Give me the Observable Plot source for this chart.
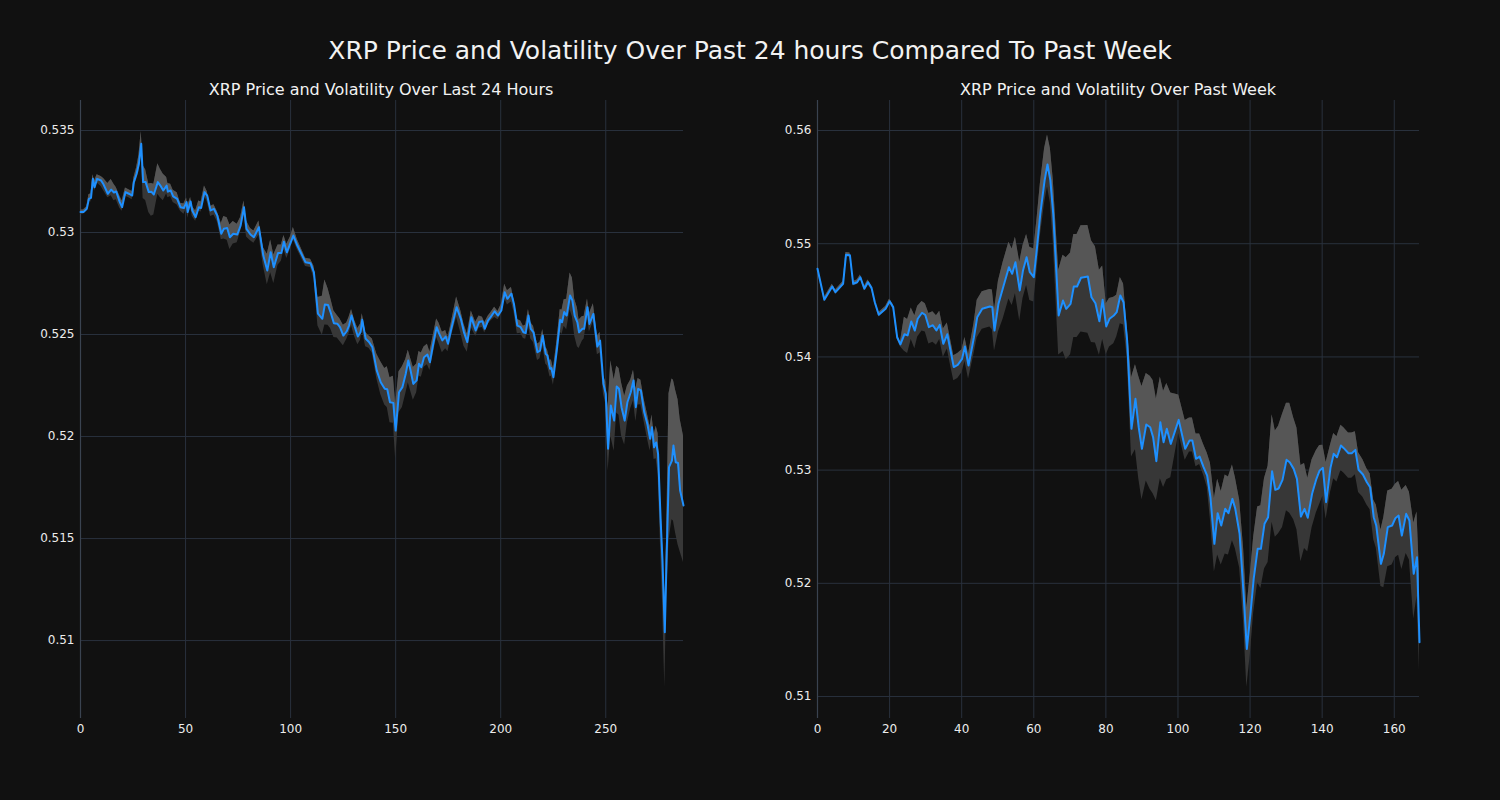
<!DOCTYPE html>
<html>
<head>
<meta charset="utf-8">
<script src="https://cdn.jsdelivr.net/npm/d3@7"></script>
<script src="https://cdn.jsdelivr.net/npm/@observablehq/plot@0.6"></script>
<style>
  html, body { margin: 0; padding: 0; background: #111111; }
  #root { position: relative; width: 1500px; height: 800px; background: #111111; font-family: "DejaVu Sans", sans-serif; overflow: hidden; }
  .title { position: absolute; color: #f2f2f2; white-space: nowrap; transform: translate(-50%, -50%); }
  .panel { position: absolute; top: 0; }
</style>
</head>
<body>
<div id="root">
  <div class="title" style="left:750px; top:50px; font-size:25px;">XRP Price and Volatility Over Past 24 hours Compared To Past Week</div>
  <div class="title" style="left:381px; top:89px; font-size:16px;">XRP Price and Volatility Over Last 24 Hours</div>
  <div class="title" style="left:1118px; top:89px; font-size:16px;">XRP Price and Volatility Over Past Week</div>
  <div id="left" class="panel" style="left:0px;"></div>
  <div id="right" class="panel" style="left:750px;"></div>
</div>
<script>
// ---------- Last 24 hours (5-minute steps) ----------
const dayX = [
  0, 1.4, 3, 4, 5, 5.9, 6.7, 7.9, 9.8, 11,
  13, 14.6, 15.9, 17, 18.7, 19.8, 21.4, 23, 24.6, 25.4,
  26.7, 27.8, 28.9, 29.8, 31, 32.5, 33.7, 34.9, 36.8, 38,
  39.4, 41, 41.6, 42.9, 44.1, 46, 47.6, 49.2, 50.5, 51,
  52.4, 53.2, 54.8, 56.3, 57.4, 59, 60.3, 61.9, 63.5, 65.1,
  67, 68.2, 69.8, 71.1, 72.7, 74.6, 76.2, 77.8, 79, 80.9,
  82.5, 84.9, 87, 88.9, 90.5, 92, 94, 95.6, 96.8, 98.2,
  100, 101.3, 103.2, 107.1, 109.5, 111.1, 113, 115.1, 116.3, 117.8,
  119, 120.6, 122.2, 123.5, 125.1, 126.7, 127.8, 129, 130.5, 132,
  133.3, 134.1, 135.7, 137.3, 138.9, 141, 142.9, 144.8, 146, 147.3,
  148.9, 150, 151.6, 153.2, 154.8, 156, 157.1, 158.4, 160, 161.1,
  162.2, 163.5, 165.1, 166.3, 167.9, 169.5, 170.6, 172.2, 173.8, 174.9,
  176.5, 179, 181, 182.5, 184.1, 186, 188.1, 189.7, 191.3, 192.4,
  194, 195.2, 197.1, 198.7, 200.3, 201.9, 203.2, 205.1, 206.3, 207.9,
  209.5, 210.8, 211.9, 213.2, 214.3, 215.6, 217.5, 218.7, 220, 221.4,
  222.2, 223.5, 224.1, 225.1, 226.7, 228.3, 229.2, 230.2, 231.4, 233,
  234.1, 235.2, 236.5, 237.3, 238.9, 239.7, 241.3, 242.2, 244.1, 246,
  247.3, 248.9, 250, 251.1, 252.4, 254, 255.2, 256.3, 257.5, 259,
  260.3, 261.9, 263.2, 264.3, 265.4, 266.7, 268.3, 269.8, 271.1, 272,
  273, 274, 274.9, 276.2, 277, 278.1, 279, 280.1, 281.5, 282.2,
  283.3, 284.4, 285.4, 287
];
const dayPrice = [
  0.5310, 0.5310, 0.53116, 0.53165, 0.5317, 0.53263, 0.53222, 0.53263, 0.53255, 0.53235,
  0.5319, 0.5321, 0.53196, 0.53201, 0.53149, 0.53124, 0.53198, 0.5319, 0.53181, 0.53247,
  0.53288, 0.53337, 0.53435, 0.53247, 0.53247, 0.53198, 0.532, 0.53186, 0.53247, 0.5323,
  0.53206, 0.5323, 0.5320, 0.53206, 0.53177, 0.53165, 0.53124, 0.5312, 0.53149, 0.531,
  0.53152, 0.53108, 0.53075, 0.53124, 0.5312, 0.53198, 0.53181, 0.53108, 0.53116, 0.53083,
  0.52994, 0.53018, 0.53022, 0.52977, 0.52994, 0.5299, 0.53034, 0.53124, 0.53018, 0.5299,
  0.52977, 0.53026, 0.52887, 0.52814, 0.52903, 0.5283, 0.52899, 0.52899, 0.52955, 0.52903,
  0.5295, 0.52985, 0.52936, 0.52854, 0.52849, 0.52805, 0.52602, 0.52577, 0.52647, 0.52645,
  0.5261, 0.52555, 0.52553, 0.52536, 0.52495, 0.52516, 0.52544, 0.52593, 0.52539, 0.5249,
  0.52512, 0.52572, 0.5248, 0.52463, 0.52438, 0.52324, 0.52266, 0.52234, 0.52232, 0.52168,
  0.52165, 0.52029, 0.52217, 0.52242, 0.52308, 0.52373, 0.52324, 0.52258, 0.52275, 0.52357,
  0.5234, 0.52389, 0.52402, 0.52364, 0.52455, 0.52536, 0.52507, 0.52471, 0.5249, 0.52455,
  0.52528, 0.52634, 0.52577, 0.52512, 0.52463, 0.52585, 0.5252, 0.52561, 0.52565, 0.52528,
  0.52569, 0.52585, 0.52614, 0.52593, 0.52618, 0.52707, 0.52675, 0.527, 0.5265, 0.52544,
  0.52536, 0.52511, 0.52507, 0.52593, 0.52528, 0.52511, 0.52413, 0.52421, 0.52495, 0.52405,
  0.52397, 0.52332, 0.52336, 0.52291, 0.52422, 0.52572, 0.5256, 0.5261, 0.52593, 0.52691,
  0.52667, 0.52593, 0.5256, 0.52511, 0.52528, 0.52528, 0.52634, 0.52552, 0.52601, 0.52441,
  0.5247, 0.52258, 0.52209, 0.5194, 0.52152, 0.52078, 0.52245, 0.52234, 0.52144, 0.52078,
  0.52168, 0.52217, 0.52275, 0.52144, 0.52234, 0.52226, 0.5212, 0.52062, 0.51989, 0.52046,
  0.51947, 0.51971, 0.51915, 0.51572, 0.51392, 0.51041, 0.51425, 0.5185, 0.51882, 0.51956,
  0.51874, 0.5187, 0.51735, 0.51662
];
const dayVolUp = [
  .0001,.0001,.0001,.0002,.0002,.0002,.0003,.0002,.0002,.0003,
  .0005,.0005,.0004,.0002,.0003,.0003,.0002,.0002,.0002,.0002,
  .0003,.0004,.0006,.0008,.0006,.0004,.0004,.0005,.0009,.0008,
  .0008,.0004,.0004,.0003,.0003,.0003,.0002,.0002,.0002,.0003,
  .0002,.0002,.0003,.0003,.0003,.0003,.0002,.0002,.0002,.0002,
  .0005,.0006,.0005,.0006,.0006,.0005,.0004,.0003,.0004,.0003,
  .0003,.0003,.0004,.0008,.0006,.0006,.0004,.0004,.0003,.0004,
  .0003,.0004,.0003,.0002,.0002,.0003,.0008,.0011,.0012,.0008,
  .0007,.0006,.0004,.0004,.0005,.0004,.0004,.0003,.0003,.0004,
  .0004,.0003,.0003,.0003,.0004,.0008,.0010,.0010,.0011,.0012,
  .0013,.0013,.0010,.0010,.0007,.0005,.0006,.0008,.0008,.0006,
  .0007,.0005,.0005,.0005,.0004,.0004,.0005,.0004,.0003,.0003,
  .0003,.0005,.0004,.0004,.0004,.0003,.0004,.0003,.0002,.0003,
  .0002,.0002,.0002,.0002,.0003,.0004,.0004,.0003,.0002,.0003,
  .0003,.0003,.0004,.0003,.0003,.0003,.0004,.0004,.0003,.0003,
  .0003,.0004,.0004,.0004,.0004,.0005,.0006,.0006,.0008,.0011,
  .0011,.0008,.0007,.0006,.0006,.0006,.0004,.0005,.0005,.0005,
  .0004,.0004,.0006,.0020,.0022,.0020,.0010,.0010,.0012,.0012,
  .0008,.0006,.0005,.0009,.0005,.0005,.0006,.0005,.0006,.0006,
  .0006,.0008,.0010,.0010,.0010,.0010,.0010,.0036,.0040,.0032,
  .0035,.0031,.0035,.0034
];
const dayVolDown = [
  .0001,.0001,.0001,.0001,.0002,.0002,.0002,.0002,.0003,.0003,
  .0002,.0003,.0004,.0004,.0003,.0002,.0002,.0002,.0002,.0002,
  .0003,.0004,.0006,.0008,.0009,.0010,.0012,.0010,.0006,.0006,
  .0005,.0004,.0003,.0003,.0003,.0003,.0002,.0003,.0003,.0003,
  .0003,.0003,.0002,.0002,.0002,.0002,.0003,.0003,.0003,.0003,
  .0003,.0005,.0006,.0006,.0005,.0004,.0003,.0004,.0004,.0003,
  .0003,.0004,.0005,.0007,.0010,.0008,.0006,.0004,.0004,.0003,
  .0003,.0002,.0002,.0002,.0002,.0003,.0006,.0008,.0010,.0010,
  .0008,.0007,.0007,.0007,.0005,.0004,.0004,.0005,.0005,.0004,
  .0004,.0005,.0004,.0003,.0003,.0004,.0006,.0008,.0009,.0010,
  .0010,.0014,.0010,.0010,.0010,.0011,.0010,.0008,.0006,.0006,
  .0005,.0005,.0005,.0004,.0005,.0005,.0005,.0006,.0006,.0004,
  .0004,.0005,.0007,.0007,.0005,.0005,.0003,.0003,.0003,.0002,
  .0002,.0002,.0003,.0002,.0002,.0003,.0003,.0004,.0004,.0004,
  .0003,.0003,.0003,.0005,.0005,.0005,.0004,.0004,.0005,.0005,
  .0005,.0004,.0004,.0004,.0004,.0006,.0006,.0007,.0007,.0007,
  .0008,.0010,.0012,.0008,.0006,.0005,.0005,.0004,.0004,.0004,
  .0006,.0005,.0005,.0011,.0015,.0015,.0013,.0013,.0014,.0012,
  .0010,.0008,.0010,.0007,.0008,.0007,.0005,.0007,.0006,.0005,
  .0006,.0008,.0010,.0015,.0020,.0027,.0020,.0036,.0029,.0037,
  .0035,.0040,.0030,.0028
];

// ---------- Past week (hourly steps) ----------
const weekX = [
  0, 1.9, 4.1, 5, 7.1, 7.9, 9, 9.9, 11, 11.9,
  13, 14, 15, 15.9, 17, 18.9, 20, 21, 22.1, 23,
  24.1, 25, 26, 27, 27.8, 29, 29.9, 30.9, 32, 33,
  33.9, 34.9, 36, 36.9, 37.8, 38.9, 40.1, 40.9, 41.9, 43.4,
  44.3, 45.7, 47.8, 48.5, 49.1, 50.2, 51.5, 53.1, 54, 54.9,
  56.1, 57, 58, 58.9, 60, 60.9, 61.8, 63, 63.8, 64.6,
  65.4, 66.9, 68.1, 69, 70.2, 71.1, 72, 73.1, 75, 76,
  77.1, 78.2, 79.1, 80.1, 81, 82.2, 83, 84, 84.9, 85.9,
  87.1, 88.2, 89.1, 90, 91.2, 92.3, 93.1, 94, 95.1, 96,
  96.9, 98, 100.2, 102, 103.2, 104, 105, 106, 107.1, 108.1,
  109, 110.1, 111, 112, 113.1, 114, 115.1, 115.9, 117.1, 118.2,
  119.1, 120.1, 121, 122.1, 123, 124, 125, 126.1, 127, 127.9,
  129, 130.1, 131, 132.1, 133, 134.1, 135.1, 136, 137.2, 138.4,
  139.3, 140.2, 141.1, 142.3, 143.2, 144.1, 145.2, 146, 147.3, 148.2,
  149.2, 150.1, 151.3, 152.4, 153.3, 154.3, 155, 156.3, 157.1, 158.2,
  159.4, 160.3, 161.2, 162.1, 163.3, 164.2, 165.4, 166.3, 167
];
const weekPrice = [
  0.54778, 0.54504, 0.54622, 0.54572, 0.54646, 0.54902, 0.54898, 0.54646, 0.5466, 0.54704,
  0.54602, 0.5466, 0.5461, 0.54483, 0.54372, 0.54425, 0.54492, 0.5444, 0.54174, 0.5411,
  0.542, 0.5419, 0.54313, 0.54233, 0.54337, 0.5439, 0.5437, 0.54263, 0.5428, 0.54233,
  0.54283, 0.54116, 0.542, 0.54057, 0.5391, 0.5393, 0.53983, 0.54092, 0.53924, 0.54174,
  0.5435, 0.54425, 0.54445, 0.5444, 0.54233, 0.5447, 0.54616, 0.54792, 0.54734, 0.54837,
  0.54587, 0.54763, 0.54881, 0.54748, 0.54704, 0.54969, 0.55264, 0.5556, 0.5570, 0.5556,
  0.55264, 0.54366, 0.54498, 0.54425, 0.54469, 0.54622, 0.54622, 0.54699, 0.5471, 0.54527,
  0.54474, 0.54315, 0.54504, 0.54269, 0.54337, 0.54366, 0.54395, 0.54542, 0.54483, 0.54145,
  0.53365, 0.5363, 0.53379, 0.53188, 0.53403, 0.53379, 0.53291, 0.53079, 0.53423, 0.53247,
  0.53365, 0.53232, 0.53444, 0.53188, 0.53261, 0.53261, 0.531, 0.5312, 0.53026, 0.52952,
  0.52761, 0.52349, 0.5262, 0.52511, 0.52658, 0.5262, 0.52746, 0.52658, 0.52437, 0.51907,
  0.51421, 0.51731, 0.5204, 0.52305, 0.52305, 0.52526, 0.52584, 0.5299, 0.52826, 0.52838,
  0.52914, 0.53091, 0.5307, 0.53011, 0.52923, 0.5259, 0.52658, 0.52579, 0.52791, 0.52923,
  0.52997, 0.5302, 0.52717, 0.5302, 0.53144, 0.53114, 0.53217, 0.53194, 0.53149, 0.53149,
  0.53179, 0.53003, 0.52961, 0.52893, 0.52849, 0.52584, 0.52511, 0.52172, 0.52261, 0.52496,
  0.52511, 0.52575, 0.52599, 0.52422, 0.52614, 0.52555, 0.52084, 0.52231, 0.5148
];
const weekVolUp = [
  .0002,.0002,.0002,.0002,.0002,.0002,.0002,.0002,.0002,.0002,
  .0002,.0002,.0002,.0002,.0002,.0002,.0002,.0002,.0002,.0002,
  .0015,.0014,.0012,.0013,.0011,.0010,.0010,.0012,.0012,.0013,
  .0012,.0013,.0010,.0010,.0010,.0010,.0008,.0008,.0010,.0012,
  .0015,.0015,.0015,.0015,.0018,.0020,.0022,.0022,.0022,.0022,
  .0025,.0022,.0020,.0022,.0025,.0025,.0026,.0028,.0026,.0028,
  .0030,.0040,.0040,.0045,.0045,.0046,.0046,.0046,.0045,.0050,
  .0050,.0045,.0030,.0020,.0018,.0016,.0015,.0016,.0016,.0012,
  .0045,.0030,.0045,.0055,.0045,.0045,.0050,.0055,.0040,.0045,
  .0040,.0045,.0022,.0025,.0020,.0020,.0022,.0020,.0020,.0020,
  .0030,.0040,.0030,.0030,.0030,.0032,.0030,.0028,.0030,.0040,
  .0036,.0036,.0037,.0037,.0038,.0040,.0045,.0050,.0052,.0055,
  .0058,.0050,.0052,.0045,.0045,.0045,.0040,.0035,.0030,.0025,
  .0022,.0020,.0035,.0020,.0018,.0018,.0018,.0018,.0018,.0018,
  .0016,.0015,.0013,.0012,.0012,.0015,.0018,.0030,.0032,.0032,
  .0032,.0030,.0030,.0040,.0025,.0025,.0045,.0040,.0060
];
const weekVolDown = [
  .0002,.0002,.0002,.0002,.0002,.0002,.0002,.0002,.0002,.0002,
  .0002,.0002,.0002,.0002,.0002,.0002,.0002,.0002,.0002,.0002,
  .0015,.0016,.0016,.0016,.0016,.0016,.0015,.0015,.0015,.0013,
  .0013,.0012,.0013,.0013,.0012,.0012,.0012,.0013,.0012,.0015,
  .0018,.0018,.0018,.0020,.0018,.0025,.0028,.0028,.0028,.0028,
  .0027,.0025,.0025,.0025,.0022,.0020,.0020,.0020,.0020,.0020,
  .0025,.0035,.0045,.0045,.0045,.0045,.0045,.0048,.0050,.0040,
  .0035,.0030,.0035,.0025,.0025,.0025,.0022,.0025,.0020,.0015,
  .0025,.0045,.0045,.0045,.0050,.0055,.0050,.0035,.0050,.0040,
  .0045,.0030,.0012,.0010,.0010,.0010,.0007,.0007,.0007,.0010,
  .0020,.0025,.0037,.0035,.0040,.0037,.0037,.0035,.0030,.0025,
  .0034,.0035,.0030,.0030,.0035,.0040,.0040,.0045,.0042,.0040,
  .0042,.0045,.0045,.0045,.0045,.0040,.0035,.0030,.0030,.0030,
  .0030,.0025,.0015,.0022,.0022,.0022,.0022,.0022,.0022,.0022,
  .0022,.0020,.0020,.0020,.0020,.0020,.0020,.0020,.0030,.0035,
  .0035,.0035,.0035,.0030,.0035,.0035,.0040,.0035,.0025
];

// ---------- Axis ticks ----------
const dayXTicks = [0, 50, 100, 150, 200, 250];
const dayYTicks = [0.51, 0.515, 0.52, 0.525, 0.53, 0.535];
const weekXTicks = [0, 20, 40, 60, 80, 100, 120, 140, 160];
const weekYTicks = [0.51, 0.52, 0.53, 0.54, 0.55, 0.56];

const GRID = "#29313d";
const SPINE = "#3a4350";
const LINE = "#1e90ff";
const BAND_DARK = "#373737";
const BAND_LIGHT = "#565656";

function panel(xs, price, up, down, o) {
  const rows = xs.map((x, i) => ({x, p: price[i], hi: price[i] + up[i], lo: price[i] - down[i]}));
  const fmt = d => String(+d.toFixed(3));
  return Plot.plot({
    width: 750,
    height: 800,
    marginTop: 100,
    marginBottom: 82,
    marginLeft: o.ml,
    marginRight: o.mr,
    style: {background: "transparent", color: "#ececec", fontFamily: "DejaVu Sans, sans-serif", fontSize: "12px", overflow: "visible"},
    x: {domain: o.xDomain, label: null},
    y: {domain: o.yDomain, label: null},
    marks: [
      Plot.gridX(o.xTicks, {stroke: GRID, strokeOpacity: 1, strokeWidth: 1}),
      Plot.gridY(o.yTicks, {stroke: GRID, strokeOpacity: 1, strokeWidth: 1}),
      Plot.ruleX([o.xDomain[0]], {stroke: SPINE, strokeWidth: 1.2}),
      Plot.areaY(rows, {x: "x", y1: "lo", y2: "hi", fill: BAND_DARK, curve: "linear"}),
      Plot.areaY(rows, {x: "x", y1: "p", y2: "hi", fill: BAND_LIGHT, curve: "linear"}),
      Plot.lineY(rows, {x: "x", y: "p", stroke: LINE, strokeWidth: 2, curve: "linear"}),
      Plot.axisX(o.xTicks, {tickSize: 0, tickPadding: 6, label: null, fill: "#ececec"}),
      Plot.axisY(o.yTicks, {tickSize: 0, tickPadding: 6, label: null, tickFormat: fmt, fill: "#ececec"})
    ]
  });
}

document.getElementById("left").appendChild(panel(dayX, dayPrice, dayVolUp, dayVolDown, {
  ml: 80, mr: 67, xDomain: [0, 287], yDomain: [0.50618, 0.53647], xTicks: dayXTicks, yTicks: dayYTicks
}));
document.getElementById("right").appendChild(panel(weekX, weekPrice, weekVolUp, weekVolDown, {
  ml: 67, mr: 81, xDomain: [0, 167], yDomain: [0.50806, 0.56265], xTicks: weekXTicks, yTicks: weekYTicks
}));
</script>
</body>
</html>
